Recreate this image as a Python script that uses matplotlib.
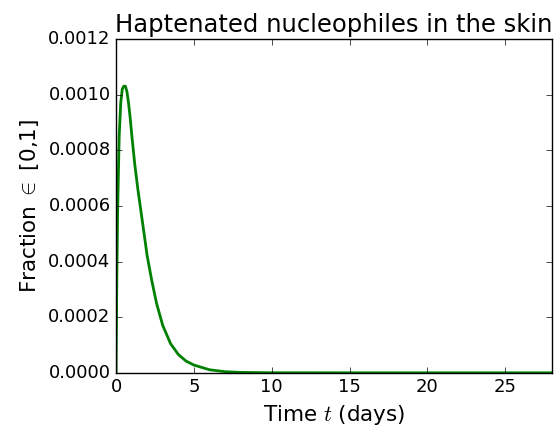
import matplotlib
matplotlib.use("Agg")
import matplotlib.pyplot as plt
from matplotlib.ticker import FormatStrFormatter

plt.style.use("classic")

# values
t_days = [0, 0.05, 0.1, 0.2, 0.3, 0.4, 0.5, 0.6, 0.7, 0.8, 0.9, 1.0, 1.2, 1.4,
          1.6, 1.8, 2.0, 2.3, 2.6, 3.0, 3.5, 4.0, 4.5, 5.0, 6.0, 7.0, 8.0, 10,
          15, 20, 28]
fraction = [0, 0.00035, 0.00058, 0.00085, 0.00097, 0.00102, 0.00103, 0.00103,
            0.00101, 0.00097, 0.00092, 0.00086, 0.00075, 0.00066, 0.00058,
            0.00050, 0.00042, 0.00033, 0.00025, 0.00017, 0.000105, 0.000066,
            0.000042, 0.000028, 0.000011, 0.000004, 0.0000015, 0.0000002,
            0, 0, 0]

fig = plt.figure(figsize=(5.58, 4.32), dpi=100, facecolor="white")
ax = fig.add_axes([0.208, 0.137, 0.781, 0.773])
ax.plot(t_days, fraction, color="g", linewidth=2)
ax.set_xlim(0, 28)
ax.set_ylim(0, 0.0012)
ax.set_xticks([0, 5, 10, 15, 20, 25])
ax.yaxis.set_major_formatter(FormatStrFormatter("%.4f"))
ax.tick_params(labelsize=13)
ax.set_xlabel("Time $t$ (days)", fontsize=15.5)
ax.set_ylabel("Fraction $\\in$ [0,1]", fontsize=15.5)
ax.set_title("Haptenated nucleophiles in the skin", fontsize=17.5)

fig.savefig("out.png", dpi=100, facecolor="white")
